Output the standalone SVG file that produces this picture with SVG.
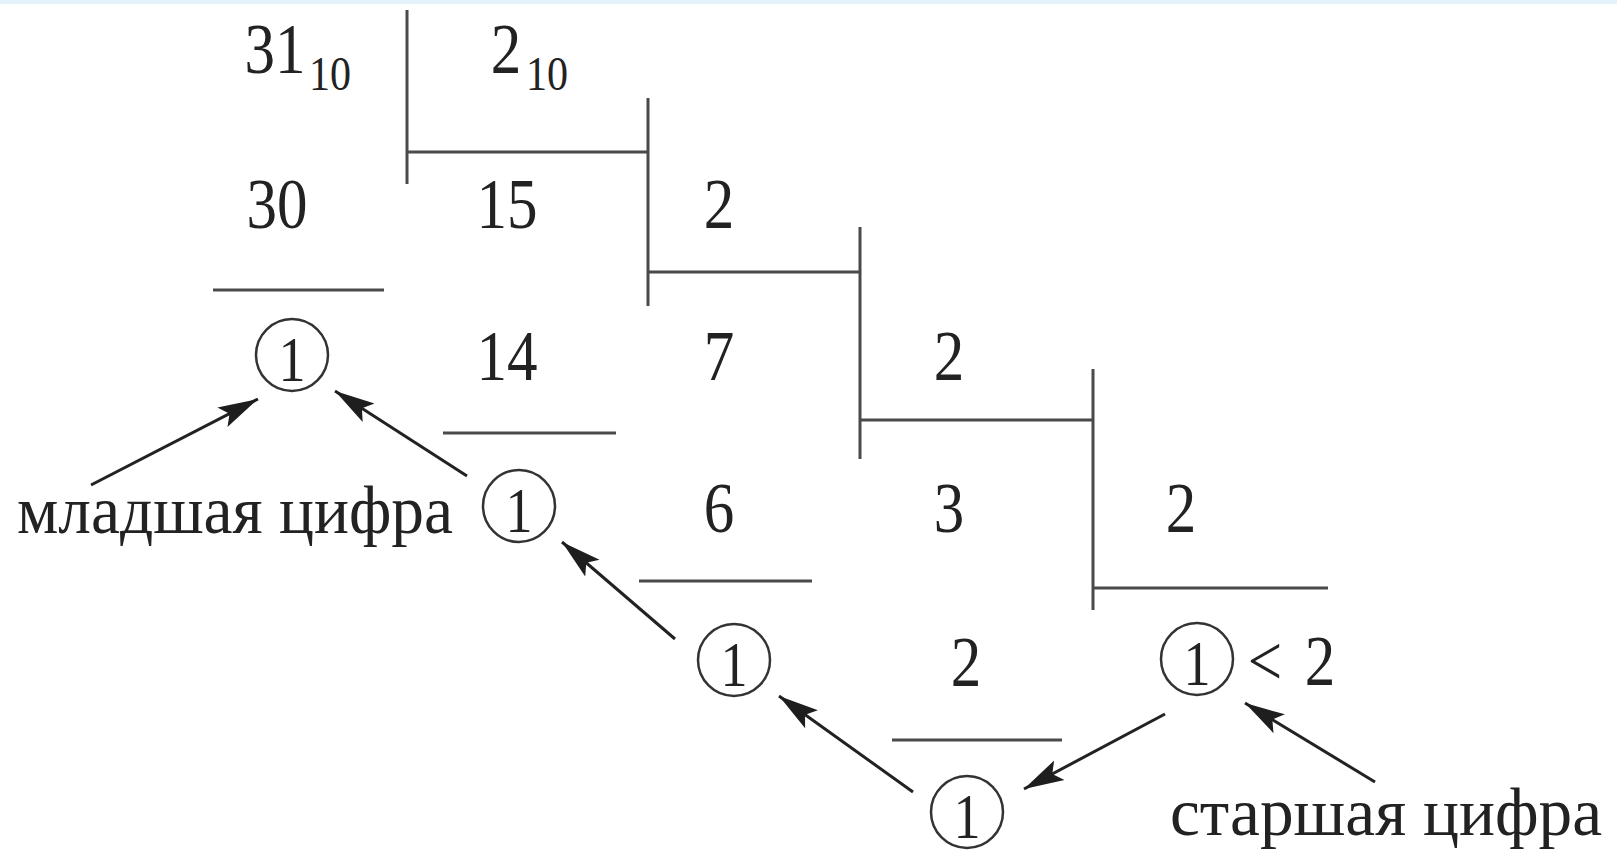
<svg xmlns="http://www.w3.org/2000/svg" width="1617" height="852" viewBox="0 0 1617 852">
<defs>
<style>
.t{font-family:"Liberation Serif","Times New Roman",serif;font-size:71px;fill:#222;text-anchor:middle}
.ci{font-family:"Liberation Serif","Times New Roman",serif;font-size:63px;fill:#222;text-anchor:middle}
.s{font-family:"Liberation Serif","Times New Roman",serif;font-size:49px;fill:#222}
.l{font-family:"Liberation Serif","Times New Roman",serif;font-size:68px;fill:#222}
.ln{stroke:#4a4a4a;stroke-width:3;fill:none}
.c{fill:none;stroke:#333;stroke-width:2.5}
.a{stroke:#222;stroke-width:3;fill:none;marker-end:url(#ah)}
</style>
<marker id="ah" markerUnits="userSpaceOnUse" markerWidth="42" markerHeight="26" refX="40" refY="13" orient="auto">
<path d="M0,2 L40,13 L0,24 L8,13 Z" fill="#1e1e1e"/>
</marker>
</defs>
<rect width="1617" height="852" fill="#ffffff"/>
<rect x="0" y="0" width="1617" height="4" fill="#e4f2fb"/>
<g id="division-lines">
<path class="ln" d="M407,10 V184 M407,152 H648 M648,98 V306 M648,272 H860 M860,227 V459 M860,420 H1093 M1093,369 V610 M1093,588 H1328"/>
<path class="ln" d="M213,290 H384 M443,433 H616 M639,581 H812 M892,740 H1062"/>
</g>
<g id="numbers">
<text class="t" transform="translate(275,73) scale(0.86,1)">31</text>
<text class="s" transform="translate(309,90) scale(0.86,1)">10</text>
<text class="t" transform="translate(506,73) scale(0.86,1)">2</text>
<text class="s" transform="translate(526,90) scale(0.86,1)">10</text>
<text class="t" transform="translate(277,228) scale(0.86,1)">30</text>
<text class="t" transform="translate(507,228) scale(0.86,1)">15</text>
<text class="t" transform="translate(719,228) scale(0.86,1)">2</text>
<text class="t" transform="translate(507,380) scale(0.86,1)">14</text>
<text class="t" transform="translate(719,380) scale(0.86,1)">7</text>
<text class="t" transform="translate(949,380) scale(0.86,1)">2</text>
<text class="t" transform="translate(719,532) scale(0.86,1)">6</text>
<text class="t" transform="translate(949,532) scale(0.86,1)">3</text>
<text class="t" transform="translate(1181,532) scale(0.86,1)">2</text>
<text class="t" transform="translate(966,686) scale(0.86,1)">2</text>
</g>
<g id="digit-1"><circle class="c" cx="292" cy="355" r="36"/><text class="ci" transform="translate(292,381) scale(0.86,1)">1</text></g>
<g id="digit-2"><circle class="c" cx="519" cy="506" r="36"/><text class="ci" transform="translate(519,532) scale(0.86,1)">1</text></g>
<g id="digit-3"><circle class="c" cx="734" cy="660" r="36"/><text class="ci" transform="translate(734,686) scale(0.86,1)">1</text></g>
<g id="digit-5"><circle class="c" cx="1197" cy="659" r="36"/><text class="ci" transform="translate(1197,685) scale(0.86,1)">1</text>
<text class="t" transform="translate(1265,685) scale(0.86,1)">&lt;</text><text class="t" transform="translate(1320,685) scale(0.86,1)">2</text></g>
<g id="digit-4"><circle class="c" cx="967" cy="812" r="36"/><text class="ci" transform="translate(967,838) scale(0.86,1)">1</text></g>
<g id="labels">
<text class="l" x="17" y="533" textLength="436" lengthAdjust="spacingAndGlyphs">младшая цифра</text>
<text class="l" x="1170" y="835" textLength="432" lengthAdjust="spacingAndGlyphs">старшая цифра</text>
</g>
<g id="connectors">
<line class="a" x1="91" y1="485" x2="258" y2="399"/>
<line class="a" x1="467" y1="476" x2="335" y2="391"/>
<line class="a" x1="675" y1="639" x2="562" y2="542"/>
<line class="a" x1="913" y1="792" x2="779" y2="696"/>
<line class="a" x1="1165" y1="714" x2="1024" y2="789"/>
<line class="a" x1="1375" y1="782" x2="1245" y2="703"/>
</g>
</svg>
